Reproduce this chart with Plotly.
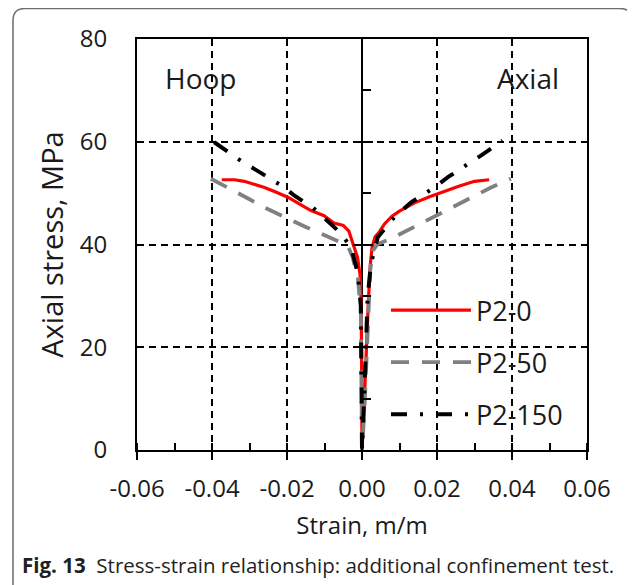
import plotly.graph_objects as go

# ---------------- data ----------------
x_tickvals = [-0.06, -0.04, -0.02, 0.0, 0.02, 0.04, 0.06]
x_ticktext = ["-0.06", "-0.04", "-0.02", "0.00", "0.02", "0.04", "0.06"]
y_tickvals = [0, 20, 40, 60, 80]

series_names = ["P2-0", "P2-50", "P2-150"]

p2_0_hoop_strain = [-0.0374, -0.0340, -0.0314, -0.0285, -0.0260, -0.0230, -0.0198, -0.0165,
                    -0.0136, -0.0101, -0.0075, -0.0050, -0.0035, -0.0028, -0.0022, -0.0012,
                    -0.0005, -0.0002, -0.0001, 0.0]
p2_0_hoop_stress = [52.6, 52.6, 52.3, 51.7, 51.1, 50.2, 49.2, 47.8, 46.6, 45.6, 44.2, 43.7,
                    42.6, 41.0, 39.8, 37.5, 34.0, 28.0, 15.0, 0.0]
p2_0_axial_strain = [0.0, 0.0003, 0.0006, 0.0011, 0.0017, 0.0022, 0.0027, 0.0035, 0.0045,
                     0.0060, 0.0080, 0.0100, 0.0140, 0.0180, 0.0220, 0.0260, 0.0300, 0.0320, 0.0339]
p2_0_axial_stress = [0.0, 4.0, 10.0, 17.0, 29.0, 36.0, 39.5, 41.5, 42.3, 44.0, 45.5, 46.5,
                     48.1, 49.3, 50.4, 51.4, 52.3, 52.5, 52.6]

p2_50_hoop_strain = [-0.0403, -0.0349, -0.0300, -0.0260, -0.0198, -0.0150, -0.0118, -0.0090,
                     -0.0065, -0.0038, -0.0025, -0.0011, -0.0003, -0.0001, 0.0]
p2_50_hoop_stress = [52.8, 50.8, 48.8, 47.2, 45.0, 43.4, 42.4, 41.5, 40.8, 39.8, 37.5, 33.6,
                     26.5, 14.0, 0.0]
p2_50_axial_strain = [0.0, 0.0006, 0.0011, 0.0017, 0.0022, 0.0029, 0.0042, 0.0077, 0.0139,
                      0.0202, 0.0273, 0.0344, 0.0397]
p2_50_axial_stress = [0.0, 7.0, 17.0, 28.5, 35.0, 38.8, 40.1, 41.1, 43.4, 45.9, 48.5, 51.1, 52.8]

p2_150_hoop_strain = [-0.0394, -0.0323, -0.0260, -0.0207, -0.0180, -0.0131, -0.0083, -0.0060,
                      -0.0029, -0.0011, -0.0003, -0.0001, 0.0]
p2_150_hoop_stress = [59.9, 56.3, 53.5, 51.1, 49.5, 47.2, 44.0, 42.4, 39.5, 34.3, 27.8, 16.9, 0.0]
p2_150_axial_strain = [0.0, 0.0006, 0.0011, 0.0015, 0.0024, 0.0042, 0.0086, 0.0131, 0.0193,
                       0.0229, 0.0317, 0.0375]
p2_150_axial_stress = [0.0, 10.4, 20.1, 29.8, 36.3, 41.4, 45.3, 48.2, 51.1, 53.1, 57.3, 60.2]

# ---------------- figure ----------------
FONT = "Open Sans"
TXT = "#1a1a1a"
OFF = 8                      # page body margin in the browser
W, H = 635 - OFF, 585 - OFF
PL, PR, PT, PB = 137, 587, 39, 450   # plot area in screen pixels
L, T = PL - OFF, PT - OFF
pw, ph = PR - PL, PB - PT
R, B = W - L - pw, H - T - ph


def px2paper_x(px):
    return (px - PL) / pw


def px2paper_y(py):
    return (PB - py) / ph


fig = go.Figure()

styles = [
    dict(color="#ff0000", width=3.2, dash="solid"),
    dict(color="#808080", width=3.8, dash="18px,13px"),
    dict(color="#000000", width=4, dash="16px,13px,3px,13px"),
]
data = [
    (p2_0_hoop_strain, p2_0_hoop_stress, p2_0_axial_strain, p2_0_axial_stress),
    (p2_50_hoop_strain, p2_50_hoop_stress, p2_50_axial_strain, p2_50_axial_stress),
    (p2_150_hoop_strain, p2_150_hoop_stress, p2_150_axial_strain, p2_150_axial_stress),
]
for name, st, (hx, hy, ax, ay) in zip(series_names, styles, data):
    fig.add_trace(go.Scatter(
        x=hx + ax, y=hy + ay, mode="lines", name=name, legendgroup=name,
        line=st,
    ))

grid_dash = "7px,5px"
fig.update_layout(
    width=W, height=H,
    margin=dict(l=L, r=R, t=T, b=B),
    paper_bgcolor="white", plot_bgcolor="white",
    font=dict(family=FONT, size=24, color=TXT),
    showlegend=True,
    legend=dict(
        x=px2paper_x(386), y=px2paper_y(286), xanchor="left", yanchor="top",
        bgcolor="rgba(0,0,0,0)", font=dict(size=27, family=FONT, color=TXT),
        itemwidth=80, tracegroupgap=14,
    ),
    xaxis=dict(
        range=[-0.06, 0.06], tickvals=x_tickvals, ticktext=x_ticktext,
        showgrid=True, gridcolor="black", gridwidth=1.5, griddash=grid_dash,
        zeroline=True, zerolinecolor="black", zerolinewidth=2,
        showline=True, mirror=True, linecolor="black", linewidth=2,
        ticks="outside", ticklen=8, tickwidth=2, tickcolor="black", ticklabelstandoff=8,
        minor=dict(ticks="inside", ticklen=7, tickwidth=2, tickcolor="black", dtick=0.01,
                   tick0=0, showgrid=False),
        tickfont=dict(size=24, family=FONT, color=TXT),
        title=dict(text="Strain, m/m", font=dict(size=24, family=FONT, color=TXT), standoff=14),
        fixedrange=True,
    ),
    yaxis=dict(
        range=[0, 80], tickvals=y_tickvals,
        showgrid=True, gridcolor="black", gridwidth=1.5, griddash=grid_dash,
        zeroline=False,
        showline=True, mirror=True, linecolor="black", linewidth=2,
        ticks="", ticklabelstandoff=23,
        tickfont=dict(size=24, family=FONT, color=TXT),
        title=dict(text="Axial stress, MPa", font=dict(size=29, family=FONT, color=TXT), standoff=8),
        fixedrange=True,
    ),
    # central axis ticks (at strain = 0)
    yaxis2=dict(
        range=[0, 80], overlaying="y", anchor="free", position=0.5, side="left",
        tickvals=[20, 40, 60], showticklabels=False, showgrid=False, zeroline=False,
        showline=False, ticks="outside", ticklen=9, tickwidth=2, tickcolor="black",
        minor=dict(ticks="inside", ticklen=8, tickwidth=2, tickcolor="black",
                   tickvals=[10, 30, 50, 70], showgrid=False),
        fixedrange=True,
    ),
    yaxis3=dict(
        range=[0, 80], overlaying="y", anchor="free", position=0.5, side="left",
        tickvals=[20, 40, 60], showticklabels=False, showgrid=False, zeroline=False,
        showline=False, ticks="inside", ticklen=10, tickwidth=2, tickcolor="black",
        fixedrange=True,
    ),
    xaxis2=dict(
        range=[-0.06, 0.06], overlaying="x", anchor="y", side="bottom",
        tickvals=x_tickvals, showticklabels=False, showgrid=False, zeroline=False,
        showline=False, ticks="inside", ticklen=6, tickwidth=2, tickcolor="black",
        fixedrange=True,
    ),
)

# invisible traces so the overlay axes are drawn
for kw in (dict(yaxis="y2"), dict(yaxis="y3"), dict(xaxis="x2")):
    fig.add_trace(go.Scatter(x=[0], y=[0], mode="markers", marker=dict(opacity=0),
                             showlegend=False, hoverinfo="skip", **kw))

# in-plot labels
fig.add_annotation(x=-0.0432, y=72.4, text="Hoop", showarrow=False,
                   font=dict(size=28, family=FONT, color=TXT))
fig.add_annotation(x=0.0443, y=72.4, text="Axial", showarrow=False,
                   font=dict(size=28, family=FONT, color=TXT))

# caption
fig.add_annotation(xref="paper", yref="paper", x=px2paper_x(20), y=px2paper_y(565),
                   xanchor="left", yanchor="middle", showarrow=False,
                   text="<b>Fig. 13</b>  Stress-strain relationship: additional confinement test.",
                   font=dict(size=20.5, family=FONT, color="#231f20"))

# outer rounded frame
x0, x1 = px2paper_x(13), px2paper_x(632)
yt, yb = px2paper_y(8.5), px2paper_y(590)
rx, ry = 12 / pw, 12 / ph
path = (f"M {x0},{yb} L {x0},{yt - ry} Q {x0},{yt} {x0 + rx},{yt} "
        f"L {x1 - rx},{yt} Q {x1},{yt} {x1},{yt - ry} L {x1},{yb}")
fig.add_shape(type="path", xref="paper", yref="paper", path=path,
              line=dict(color="#6d6e71", width=1.5), layer="below")

fig.write_html("out.html")
